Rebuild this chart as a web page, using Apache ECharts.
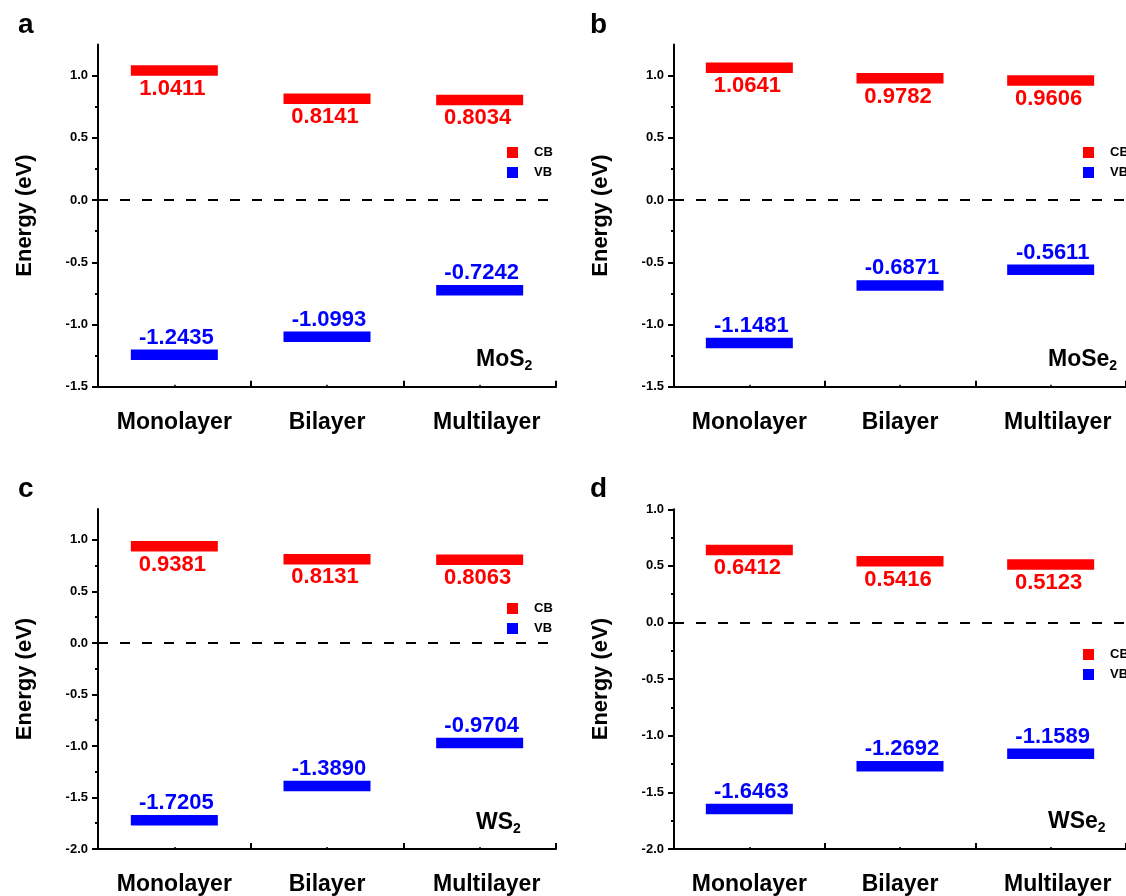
<!DOCTYPE html>
<html>
<head>
<meta charset="utf-8">
<script src="https://cdn.jsdelivr.net/npm/echarts@6/dist/echarts.min.js"></script>
<style>
html,body{margin:0;padding:0;background:#fff;}
#chart{width:1126px;height:896px;}
</style>
</head>
<body>
<div id="chart"></div>
<script>
// ---- data ----
var categories = ['Monolayer', 'Bilayer', 'Multilayer'];
var mos2CB = [1.0411, 0.8141, 0.8034];
var mos2VB = [-1.2435, -1.0993, -0.7242];
var mose2CB = [1.0641, 0.9782, 0.9606];
var mose2VB = [-1.1481, -0.6871, -0.5611];
var ws2CB = [0.9381, 0.8131, 0.8063];
var ws2VB = [-1.7205, -1.3890, -0.9704];
var wse2CB = [0.6412, 0.5416, 0.5123];
var wse2VB = [-1.6463, -1.2692, -1.1589];
var ticksTop = [-1.5, -1.0, -0.5, 0.0, 0.5, 1.0];
var minorTop = [-1.25, -0.75, -0.25, 0.25, 0.75];
var ticksBottom = [-2.0, -1.5, -1.0, -0.5, 0.0, 0.5, 1.0];
var minorBottom = [-1.75, -1.25, -0.75, -0.25, 0.25, 0.75];
var panelLetters = ['a', 'b', 'c', 'd'];
var materials = [['MoS', '2'], ['MoSe', '2'], ['WS', '2'], ['WSe', '2']];

var FONT = '"Liberation Sans", Arial, Helvetica, sans-serif';
var RED = '#ff0000', BLUE = '#0000ff';

var panels = [
  {cb: mos2CB, vb: mos2VB, min: -1.5, max: 1.25, ticks: ticksTop, minor: minorTop,
   grid: {left: 98, top: 44.5, width: 458, height: 342.2},
   legend: {left: 502, top: 141}, letter: {x: 18, y: 25}, mat: {x: 476, y: 347}},
  {cb: mose2CB, vb: mose2VB, min: -1.5, max: 1.25, ticks: ticksTop, minor: minorTop,
   grid: {left: 674, top: 44.5, width: 457, height: 342.2},
   legend: {left: 1078, top: 141}, letter: {x: 590, y: 25}, mat: {x: 1048, y: 347}},
  {cb: ws2CB, vb: ws2VB, min: -2.0, max: 1.3, ticks: ticksBottom, minor: minorBottom,
   grid: {left: 98, top: 509, width: 458, height: 341.3},
   legend: {left: 502, top: 597}, letter: {x: 18, y: 489}, mat: {x: 476, y: 810}},
  {cb: wse2CB, vb: wse2VB, min: -2.0, max: 1.0, ticks: ticksBottom, minor: minorBottom,
   grid: {left: 674, top: 509.3, width: 457, height: 341.4},
   legend: {left: 1078, top: 643}, letter: {x: 590, y: 489}, mat: {x: 1048, y: 809}}
];

var grids = [], xAxes = [], yAxes = [], series = [], legends = [], graphics = [];

panels.forEach(function (p, i) {
  grids.push(p.grid);
  // main category axis
  xAxes.push({
    type: 'category', gridIndex: i, position: 'bottom', data: categories.map(function (c, k) {
      return k === 2 ? {value: c, textStyle: {padding: [0, 0, 0, 14]}} : c;
    }),
    boundaryGap: true,
    axisLine: {onZero: false, lineStyle: {color: '#000', width: 2}},
    axisTick: {show: true, inside: true, length: 6, lineStyle: {color: '#000', width: 2}},
    axisLabel: {color: '#000', fontFamily: FONT, fontWeight: 'bold', fontSize: 23, margin: 24},
    splitLine: {show: false}
  });
  // minor ticks at category centres
  xAxes.push({
    type: 'category', gridIndex: i, position: 'bottom', data: categories, boundaryGap: true,
    axisLine: {show: false, onZero: false},
    axisTick: {show: true, inside: true, alignWithLabel: true, length: 2, lineStyle: {color: '#000', width: 1.5}},
    axisLabel: {show: false}, splitLine: {show: false}
  });
  var yMain = yAxes.length;
  yAxes.push({
    type: 'value', gridIndex: i, position: 'left', min: p.min, max: p.max,
    name: 'Energy (eV)', nameLocation: 'middle', nameGap: 62,
    nameTextStyle: {color: '#000', fontFamily: FONT, fontWeight: 'bold', fontSize: 22},
    axisLine: {show: true, onZero: false, lineStyle: {color: '#000', width: 2}},
    axisTick: {show: true, inside: false, length: 6, customValues: p.ticks, lineStyle: {color: '#000', width: 2}},
    axisLabel: {color: '#000', fontFamily: FONT, fontWeight: 'bold', fontSize: 13, margin: 10,
      customValues: p.ticks, formatter: function (v) { return v.toFixed(1); }},
    splitLine: {show: false}
  });
  yAxes.push({
    type: 'value', gridIndex: i, position: 'left', offset: 0, min: p.min, max: p.max,
    axisLine: {show: false, onZero: false},
    axisTick: {show: true, inside: false, length: 3, customValues: p.minor, lineStyle: {color: '#000', width: 2}},
    axisLabel: {show: false}, splitLine: {show: false}
  });
  var xi = i * 2;
  series.push({
    name: 'CB', type: 'scatter', xAxisIndex: xi, yAxisIndex: yMain,
    data: p.cb, symbol: 'rect', symbolSize: [87, 10.5],
    itemStyle: {color: RED, opacity: 1},
    label: {show: true, position: 'bottom', distance: 2, offset: [-2, 0], color: RED,
      fontFamily: FONT, fontWeight: 'bold', fontSize: 22,
      formatter: function (d) { return d.value.toFixed(4); }},
    emphasis: {disabled: true},
    markLine: {
      silent: true, symbol: 'none',
      lineStyle: {color: '#000', width: 2, type: [10, 12]},
      label: {show: false},
      emphasis: {disabled: true},
      data: [{yAxis: 0}]
    }
  });
  series.push({
    name: 'VB', type: 'scatter', xAxisIndex: xi, yAxisIndex: yMain,
    data: p.vb, symbol: 'rect', symbolSize: [87, 10.5],
    itemStyle: {color: BLUE, opacity: 1},
    label: {show: true, position: 'top', distance: 1, offset: [2, 0], color: BLUE,
      fontFamily: FONT, fontWeight: 'bold', fontSize: 22,
      formatter: function (d) { return d.value.toFixed(4); }},
    emphasis: {disabled: true}
  });
  legends.push({
    data: ['CB', 'VB'], orient: 'vertical', left: p.legend.left, top: p.legend.top,
    icon: 'rect', itemWidth: 11, itemHeight: 11, itemGap: 7, selectedMode: false,
    itemStyle: {opacity: 1},
    textStyle: {color: '#000', fontFamily: FONT, fontWeight: 'bold', fontSize: 13, padding: [0, 0, 0, 11]}
  });
  graphics.push({
    type: 'text', x: p.letter.x, y: p.letter.y,
    style: {text: panelLetters[i], fill: '#000', font: 'bold 28px ' + FONT, textVerticalAlign: 'middle'}
  });
  graphics.push({
    type: 'text', x: p.mat.x, y: p.mat.y,
    style: {
      text: '{m|' + materials[i][0] + '}{s|' + materials[i][1] + '}',
      rich: {
        m: {fontFamily: FONT, fontWeight: 'bold', fontSize: 23, lineHeight: 26, fill: '#000'},
        s: {fontFamily: FONT, fontWeight: 'bold', fontSize: 14, lineHeight: 12, verticalAlign: 'bottom', fill: '#000'}
      }
    }
  });
});

var chart = echarts.init(document.getElementById('chart'), null, {renderer: 'canvas'});
chart.setOption({
  backgroundColor: '#fff',
  animation: false,
  grid: grids,
  xAxis: xAxes,
  yAxis: yAxes,
  legend: legends,
  series: series,
  graphic: graphics
});
</script>
</body>
</html>
